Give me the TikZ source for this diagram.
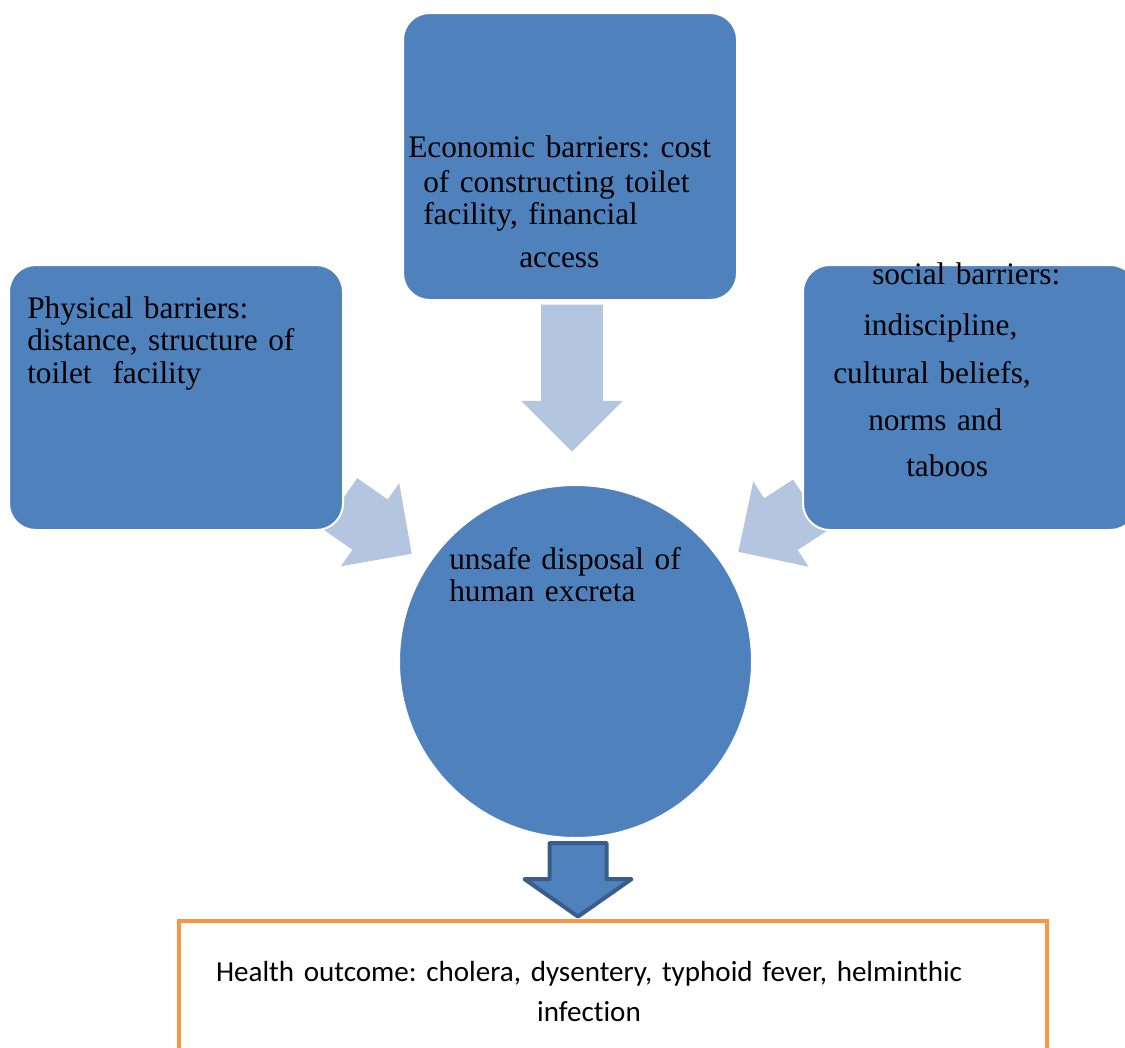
\documentclass[tikz,border=0pt]{standalone}
\usepackage{fontspec}
\setmainfont{Liberation Serif}
\newfontfamily\calibri[Ligatures=NoCommon]{Carlito}
\definecolor{accblue}{RGB}{79, 129, 189}
\definecolor{accdark}{RGB}{56, 93, 138}
\definecolor{paleblue}{RGB}{180, 197, 224}
\definecolor{accorange}{RGB}{247, 150, 70}
\usetikzlibrary{shapes.arrows, positioning, calc}
\tikzset{
	barrier/.style={rectangle, rounded corners=20pt, fill=accblue, draw=white, line width=1.5pt, minimum width=250.5pt, minimum height=198.75pt, inner sep=0pt},
	core/.style={circle, fill=accblue, draw=white, line width=1.5pt, minimum size=264.75pt, inner sep=0pt},
	outcome/.style={rectangle, draw=accorange, line width=3pt, fill=white, minimum width=651pt, minimum height=134.25pt, inner sep=0pt},
	bartext/.style={anchor=base west, inner sep=0pt, align=left, text width=330pt, font=\fontsize{23.5}{24.5}\selectfont\frenchspacing},
	outtext/.style={anchor=base, inner sep=0pt, align=center, text width=620pt, font=\calibri\fontsize{21.8}{30}\selectfont\frenchspacing},
	inarrow/.style={single arrow, single arrow head extend=15pt, single arrow tip angle=90, inner xsep=0pt, inner ysep=22.875pt, fill=paleblue, draw=none, anchor=tip},
	outarrow/.style={single arrow, single arrow head extend=18.75pt, single arrow tip angle=110, inner xsep=0pt, inner ysep=19.875pt, minimum height=55pt, fill=accblue, draw=accdark, line width=3pt, line join=round, anchor=tip},
}

\begin{document}
\begin{tikzpicture}[x=0.75pt, y=-0.75pt]
		\useasboundingbox (0,0) rectangle (1125,1047);
		% arrows into the centre
		\node[inarrow, minimum height=66pt, rotate=-35] (physarrow) at (412,554) {};
		\node[inarrow, minimum height=64pt, rotate=-147] (socarrow) at (738,552) {};
		\node[inarrow, minimum height=110.25pt, rotate=-90] (econarrow) at (572,452) {};
		% barriers
		\node[barrier] (phys) at (176,397.5) {};
		\node[barrier, minimum height=215.25pt] (econ) at (570,156.5) {};
		\node[barrier] (social) at (970,397.5) {};
		\node[core] (unsafe) at (575.5,661.5) {};
		\node[bartext] (phystext) at (27,318) {Physical barriers:\\distance, structure of\\toilet\ \ facility};
		\node[bartext] (econtext) at (408,157) {Economic barriers: cost\\[1.75pt]\hspace*{11.25pt}of constructing toilet\\[-0.5pt]\hspace*{11.25pt}facility, financial\\[7.75pt]\hspace*{83.25pt}access};
		\node[bartext] (socialtext) at (833,284) {\hspace*{29.25pt}social barriers:\\[13.75pt]\hspace*{22.5pt}indiscipline,\\[11.5pt]cultural beliefs,\\[10.75pt]\hspace*{26.25pt}norms and\\[10pt]\hspace*{54.75pt}taboos};
		\node[bartext] (unsafetext) at (449,569) {unsafe disposal of\\human excreta};
		% outcome
		\node[outcome] (health) at (613,1010.5) {};
		\node[outarrow, rotate=-90] (healtharrow) at (578,919) {};
		\node[outtext] (healthtext) at (589,981) {Health outcome: cholera, dysentery, typhoid fever, helminthic\\infection};
	\end{tikzpicture}
\end{document}
